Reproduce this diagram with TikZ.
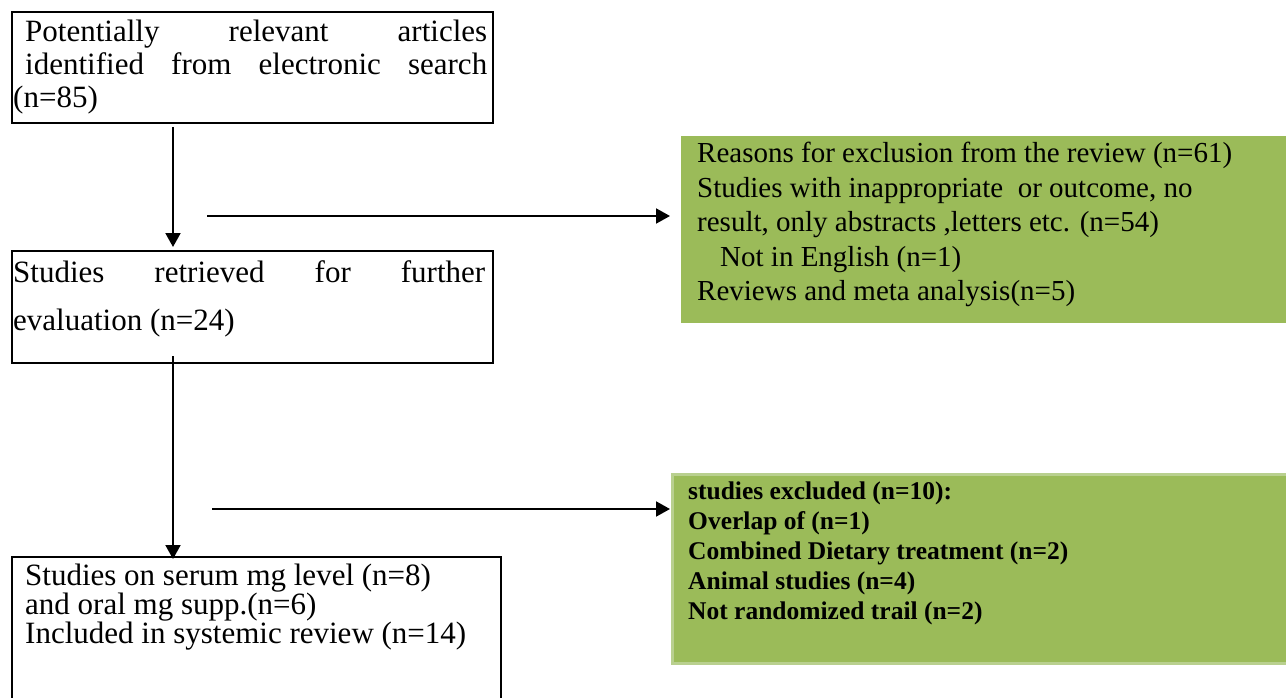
\documentclass[tikz,border=0pt]{standalone}
\usepackage{fontspec}
\setmainfont{Liberation Serif}
\usetikzlibrary{arrows.meta}
\definecolor{olivefill}{HTML}{9BBB59}
\definecolor{oliveedge}{HTML}{B9D08F}
\begin{document}
\begin{tikzpicture}[x=1pt,y=-1pt,
  box/.style={draw=black,line width=2pt,anchor=north west,inner sep=0pt},
  gbox/.style={fill=olivefill,anchor=north west,inner sep=0pt},
  lt/.style={anchor=base west,inner sep=0pt,font=\fontsize{31}{33}\selectfont},
  gt/.style={anchor=base west,inner sep=0pt,font=\fontsize{29}{33}\selectfont},
  bt/.style={anchor=base west,inner sep=0pt,font=\fontsize{25.5}{30}\selectfont\bfseries},
  arr/.style={line width=2pt,-{Triangle[length=14pt,width=15pt]}}]
\useasboundingbox (0,0) rectangle (1286,698);
% boxes
\node[box,minimum width=481pt,minimum height=111pt] (b1) at (11,11) {};
\node[box,minimum width=481pt,minimum height=112pt] (b2) at (11,250) {};
\node[box,minimum width=489pt,minimum height=160pt] (b3) at (11,556) {};
\node[gbox,minimum width=611pt,minimum height=187pt] (g1) at (681,136) {};
\node[gbox,draw=oliveedge,line width=3pt,minimum width=621pt,minimum height=189pt] (g2) at (671,473) {};
% texts box 1
\node[lt] (t1a) at (25,42) {\makebox[462pt][s]{Potentially relevant articles}};
\node[lt] (t1b) at (25,75) {\makebox[462pt][s]{identified from electronic search}};
\node[lt] (t1c) at (13,108) {(n=85)};
% texts box 2
\node[lt] (t2a) at (13,282) {\makebox[472pt][s]{Studies retrieved for further}};
\node[lt] (t2b) at (13,330) {evaluation (n=24)};
% texts box 3
\node[lt] (t3a) at (25,585) {Studies on serum mg level (n=8)};
\node[lt] (t3b) at (25,614) {and oral mg supp.(n=6)};
\node[lt] (t3c) at (25,643) {Included in systemic review (n=14)};
% green box 1
\node[gt] (u1) at (697,163) {Reasons for exclusion from the review (n=61)};
\node[gt] (u2) at (697,197) {Studies with inappropriate\ \ or outcome, no};
\node[gt] (u3) at (697,232) {result, only abstracts ,letters etc. (n=54)};
\node[gt] (u4) at (720,266) {Not in English (n=1)};
\node[gt] (u5) at (697,300) {Reviews and meta analysis(n=5)};
% green box 2
\node[bt] (v1) at (688,499) {studies excluded (n=10):};
\node[bt] (v2) at (688,529) {Overlap of (n=1)};
\node[bt] (v3) at (688,559) {Combined Dietary treatment (n=2)};
\node[bt] (v4) at (688,589) {Animal studies (n=4)};
\node[bt] (v5) at (688,619) {Not randomized trail (n=2)};
% connectors
\draw[arr,shorten <=3pt,shorten >=3pt] ([xshift=162pt]b1.south west) -- ([xshift=162pt]b2.north west);
\draw[arr,shorten <=-8pt,shorten >=-3pt] ([xshift=162pt]b2.south west) -- ([xshift=162pt]b3.north west);
\coordinate (s1) at (207,216);
\coordinate (s2) at (212,509);
\draw[arr,shorten >=11pt] (s1) -- (s1 -| g1.west);
\draw[arr,shorten >=1pt] (s2) -- (s2 -| g2.west);
\end{tikzpicture}
\end{document}
